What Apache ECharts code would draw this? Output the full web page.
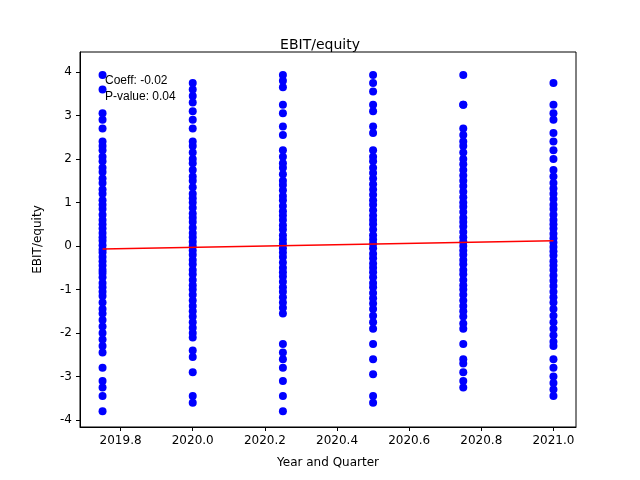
<!DOCTYPE html>
<html><head><meta charset="utf-8">
<script src="https://cdn.jsdelivr.net/npm/echarts@6/dist/echarts.min.js"></script>
<style>html,body{margin:0;padding:0;background:#fff}#c{width:640px;height:480px}</style>
</head><body><div id="c"></div>
<script>
const quarters = [2019.75, 2020.0, 2020.25, 2020.5, 2020.75, 2021.0];
const q1 = [3.93,3.6,3.05,2.9,2.7,2.4,2.3,2.2,2.05,1.95,1.8,1.7,1.55,1.45,1.3,1.2,1.05,0.95,0.85,0.72,0.6,0.5,0.4,0.3,0.2,0.12,0.02,-0.08,-0.15,-0.25,-0.35,-0.45,-0.55,-0.62,-0.72,-0.85,-0.95,-1.05,-1.15,-1.3,-1.45,-1.55,-1.7,-1.85,-2.0,-2.15,-2.3,-2.45,-2.8,-3.1,-3.25,-3.45,-3.8];
const q2 = [3.75,3.6,3.45,3.3,3.1,2.9,2.7,2.4,2.3,2.15,2.0,1.9,1.75,1.6,1.5,1.35,1.2,1.1,1.0,0.88,0.75,0.65,0.55,0.42,0.3,0.2,0.1,0.0,-0.1,-0.2,-0.32,-0.42,-0.55,-0.65,-0.78,-0.9,-1.0,-1.12,-1.25,-1.38,-1.5,-1.62,-1.75,-1.88,-2.0,-2.1,-2.4,-2.55,-2.9,-3.45,-3.6];
const q3 = [3.93,3.8,3.65,3.25,3.05,2.75,2.55,2.2,2.05,1.9,1.8,1.65,1.5,1.4,1.28,1.15,1.05,0.92,0.8,0.7,0.6,0.48,0.38,0.25,0.15,0.05,-0.05,-0.15,-0.25,-0.38,-0.5,-0.6,-0.7,-0.82,-0.95,-1.05,-1.18,-1.3,-1.42,-1.55,-2.25,-2.45,-2.6,-2.8,-3.1,-3.45,-3.8];
const q4 = [3.93,3.75,3.55,3.25,3.1,2.75,2.6,2.2,2.05,1.95,1.8,1.68,1.55,1.42,1.3,1.18,1.05,0.95,0.82,0.7,0.6,0.5,0.38,0.25,0.15,0.05,-0.05,-0.18,-0.28,-0.4,-0.5,-0.6,-0.72,-0.85,-0.95,-1.08,-1.2,-1.32,-1.45,-1.6,-1.75,-1.9,-2.25,-2.6,-2.95,-3.45,-3.6];
const q5 = [3.93,3.25,3.25,2.7,2.55,2.4,2.3,2.15,2.0,1.88,1.75,1.62,1.5,1.38,1.25,1.12,1.0,0.9,0.78,0.65,0.55,0.45,0.32,0.2,0.1,0.0,-0.1,-0.2,-0.32,-0.42,-0.55,-0.65,-0.78,-0.9,-1.0,-1.12,-1.25,-1.38,-1.5,-1.62,-1.78,-1.9,-2.25,-2.6,-2.7,-2.9,-3.1,-3.25];
const q6 = [3.75,3.25,3.05,2.9,2.6,2.4,2.2,2.0,1.75,1.6,1.45,1.32,1.2,1.08,0.95,0.85,0.72,0.6,0.5,0.4,0.28,0.18,0.08,-0.02,-0.12,-0.22,-0.35,-0.45,-0.55,-0.68,-0.8,-0.92,-1.05,-1.18,-1.3,-1.45,-1.6,-1.75,-1.9,-2.05,-2.2,-2.3,-2.6,-2.8,-3.0,-3.15,-3.3,-3.45];
const fitX = [2019.75, 2021.0];
const fitY = [-0.07, 0.12];
const xTicks = [2019.8, 2020.0, 2020.2, 2020.4, 2020.6, 2020.8, 2021.0];
const yTicks = [-4, -3, -2, -1, 0, 1, 2, 3, 4];

const groups = [q1,q2,q3,q4,q5,q6];
const pts = [];
groups.forEach((g,i)=>g.forEach(v=>pts.push([quarters[i], v])));
const F = 'DejaVu Sans';
const chart = echarts.init(document.getElementById('c'));
chart.setOption({
  animation:false,
  title:{text:'EBIT/equity', left:'center', top:33, textStyle:{fontFamily:F,fontSize:14,fontWeight:'normal',color:'#000'}},
  grid:{left:80,right:64,top:52,bottom:53},
  graphic:[
    {type:'text',left:105,top:75,style:{text:'Coeff: -0.02',font:'12px DejaVu Sans',fill:'#000'}},
    {type:'text',left:105,top:91,style:{text:'P-value: 0.04',font:'12px DejaVu Sans',fill:'#000'}}
  ],
  xAxis:{type:'value',min:2019.6875,max:2021.0625,
    name:'Year and Quarter',nameLocation:'middle',nameGap:30,nameTextStyle:{fontFamily:F,fontSize:12,color:'#000'},
    splitLine:{show:false},axisLine:{onZero:false,lineStyle:{color:'#000'}},
    axisTick:{show:true,length:4,lineStyle:{color:'#000'},customValues:xTicks},
    axisLabel:{fontFamily:F,fontSize:12,color:'#000',customValues:xTicks,formatter:v=>v.toFixed(1)}},
  yAxis:{type:'value',min:-4.16,max:4.46,
    name:'EBIT/equity',nameLocation:'middle',nameGap:36,nameTextStyle:{fontFamily:F,fontSize:12,color:'#000'},
    splitLine:{show:false},axisLine:{show:true,onZero:false,lineStyle:{color:'#000'}},
    axisTick:{show:true,length:4,lineStyle:{color:'#000'},customValues:yTicks},
    axisLabel:{fontFamily:F,fontSize:12,color:'#000',customValues:yTicks}},
  series:[
    {type:'scatter',data:pts,symbolSize:8,itemStyle:{color:'#0000ff',opacity:1}},
    {type:'line',data:fitX.map((x,i)=>[x,fitY[i]]),symbol:'none',lineStyle:{color:'#ff0000',width:1.5}}
  ]
});
// frame on top/right
chart.setOption({graphic:[{},{},{type:'rect',shape:{x:80,y:52,width:496,height:375},style:{fill:'none',stroke:'#000',lineWidth:1},silent:true}]});
</script></body></html>
